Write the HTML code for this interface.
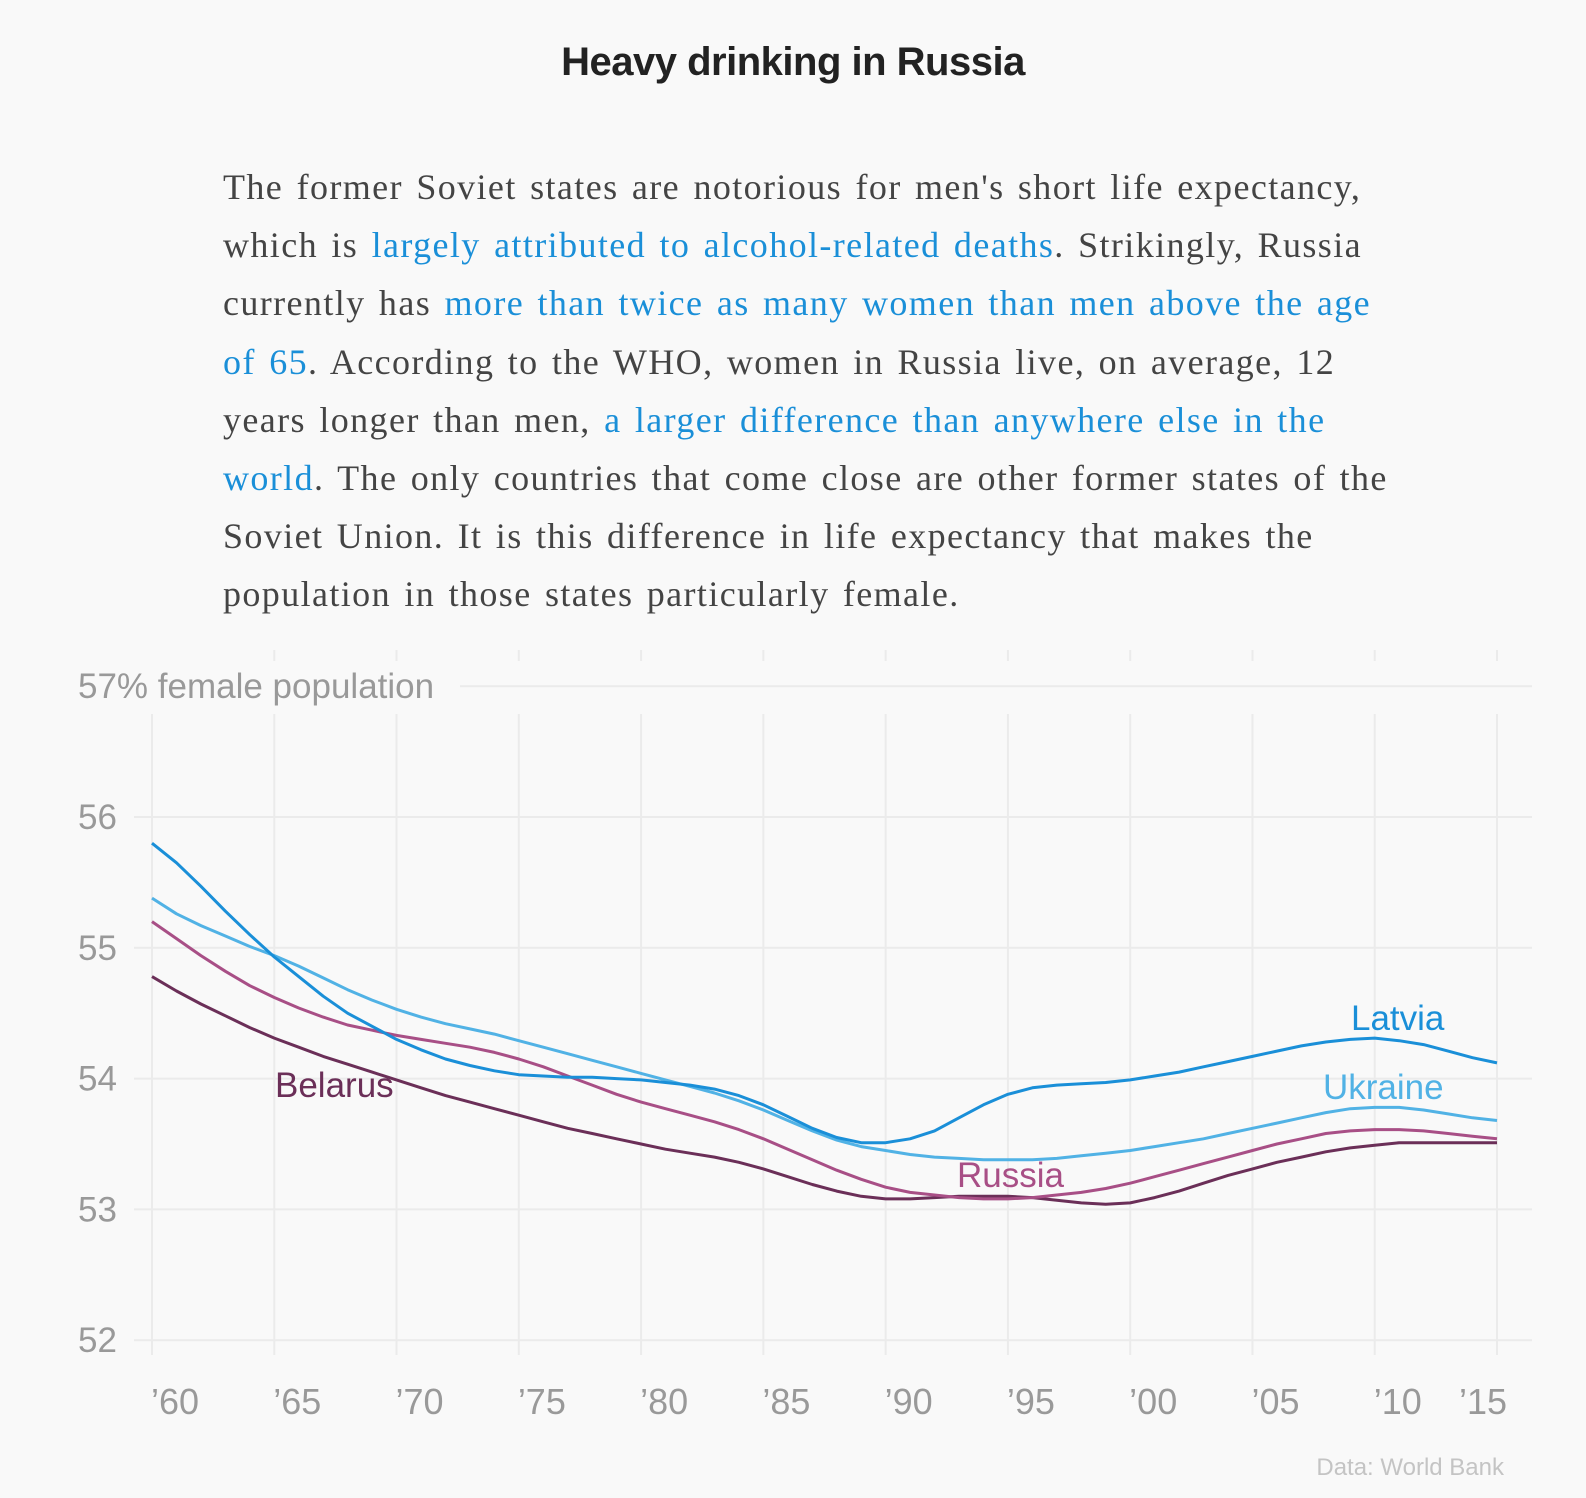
<!DOCTYPE html>
<html><head><meta charset="utf-8"><style>
body{margin:0;background:#f9f9f9;width:1586px;height:1498px;overflow:hidden;font-family:"Liberation Sans",sans-serif;}
#title{position:absolute;top:40px;left:0;width:1586px;text-align:center;font-weight:bold;font-size:40px;color:#222;letter-spacing:-0.5px}
#para{position:absolute;left:223px;top:158px;font-family:"Liberation Serif",serif;font-size:36px;letter-spacing:1.4px;word-spacing:3px;line-height:58.2px;color:#444;white-space:nowrap}
#para a{color:#1a8fd8;text-decoration:none}
svg{position:absolute;left:0;top:0}
</style></head><body>
<div id="title">Heavy drinking in Russia</div>
<div id="para">The former Soviet states are notorious for men's short life expectancy,<br>which is <a>largely attributed to alcohol-related deaths</a>. Strikingly, Russia<br>currently has <a>more than twice as many women than men above the age</a><br><a>of 65</a>. According to the WHO, women in Russia live, on average, 12<br>years longer than men, <a>a larger difference than anywhere else in the</a><br><a>world</a>. The only countries that come close are other former states of the<br>Soviet Union. It is this difference in life expectancy that makes the<br>population in those states particularly female.</div>
<svg id="chart" width="1586" height="1498"></svg>
<script>
const years=[];for(let y=1960;y<=2015;y++)years.push(y);
const yTicks=[52,53,54,55,56,57];
const xTicks=[1960,1965,1970,1975,1980,1985,1990,1995,2000,2005,2010,2015];
const xTickLabels=["’60","’65","’70","’75","’80","’85","’90","’95","’00","’05","’10","’15"];
const latvia=[55.8,55.65,55.47,55.28,55.1,54.93,54.78,54.63,54.5,54.4,54.3,54.22,54.15,54.1,54.06,54.03,54.02,54.01,54.01,54.0,53.99,53.97,53.95,53.92,53.87,53.8,53.71,53.62,53.55,53.51,53.51,53.54,53.6,53.7,53.8,53.88,53.93,53.95,53.96,53.97,53.99,54.02,54.05,54.09,54.13,54.17,54.21,54.25,54.28,54.3,54.31,54.29,54.26,54.21,54.16,54.12];
const ukraine=[55.38,55.26,55.17,55.09,55.01,54.94,54.86,54.77,54.68,54.6,54.53,54.47,54.42,54.38,54.34,54.29,54.24,54.19,54.14,54.09,54.04,53.99,53.94,53.89,53.83,53.76,53.68,53.6,53.53,53.48,53.45,53.42,53.4,53.39,53.38,53.38,53.38,53.39,53.41,53.43,53.45,53.48,53.51,53.54,53.58,53.62,53.66,53.7,53.74,53.77,53.78,53.78,53.76,53.73,53.7,53.68];
const russia=[55.2,55.07,54.94,54.82,54.71,54.62,54.54,54.47,54.41,54.37,54.33,54.3,54.27,54.24,54.2,54.15,54.09,54.02,53.95,53.88,53.82,53.77,53.72,53.67,53.61,53.54,53.46,53.38,53.3,53.23,53.17,53.13,53.11,53.09,53.08,53.08,53.09,53.11,53.13,53.16,53.2,53.25,53.3,53.35,53.4,53.45,53.5,53.54,53.58,53.6,53.61,53.61,53.6,53.58,53.56,53.54];
const belarus=[54.78,54.67,54.57,54.48,54.39,54.31,54.24,54.17,54.11,54.05,53.99,53.93,53.87,53.82,53.77,53.72,53.67,53.62,53.58,53.54,53.5,53.46,53.43,53.4,53.36,53.31,53.25,53.19,53.14,53.1,53.08,53.08,53.09,53.1,53.1,53.1,53.09,53.07,53.05,53.04,53.05,53.09,53.14,53.2,53.26,53.31,53.36,53.4,53.44,53.47,53.49,53.51,53.51,53.51,53.51,53.51];
const seriesNames=["Belarus","Russia","Ukraine","Latvia"];
const seriesData=[belarus,russia,ukraine,latvia];
const colors=["#6b2f58","#a84f86","#51b2e5","#1a8fd8"];
const labelXY=[[275,1085],[957,1175],[1323,1087],[1351,1018]];
const NS="http://www.w3.org/2000/svg",svg=document.getElementById('chart');
const X=v=>152+(v-1960)*(1345/55), Y=v=>817+(56-v)*130.8;
function mk(t,a,p){const e=document.createElementNS(NS,t);for(const k in a)e.setAttribute(k,a[k]);(p||svg).appendChild(e);return e;}
xTicks.forEach((t,i)=>{
 const l=mk('line',{x1:X(t),x2:X(t),y1:714,y2:1355,stroke:'#ebebeb','stroke-width':2});
 
 
 if(t>1960){const l2=mk('line',{x1:X(t),x2:X(t),y1:650,y2:661,stroke:'#ebebeb','stroke-width':2});
 
 }
 const last=i===xTicks.length-1;
 const tx=mk('text',{x:last?X(t)+10:X(t)-1,y:1414,'font-size':36,fill:'#999','text-anchor':last?'end':'start'});
 tx.textContent=xTickLabels[i];
 
 
});
yTicks.forEach(t=>{
 const l=mk('line',{x1:t===57?460:134,x2:1532,y1:Y(t),y2:Y(t),stroke:'#ebebeb','stroke-width':2});
 
 
 const tx=mk('text',{x:78,y:Y(t)+12,'font-size':35,fill:'#999'});
 tx.textContent=t===57?'57% female population':String(t);
 
 
});
seriesData.forEach((d,i)=>{
 const p=mk('path',{d:d.map((v,j)=>(j?'L':'M')+X(years[j]).toFixed(1)+','+Y(v).toFixed(1)).join(''),fill:'none',stroke:colors[i],'stroke-width':3,'stroke-linejoin':'round'});
 
 
 const lp=labelXY[i];
 const tx=mk('text',{x:lp[0],y:lp[1]+12,'font-size':35,fill:colors[i]});
 tx.textContent=seriesNames[i];
 
 
});
const src=mk('text',{x:1504,y:1475,'font-size':24,fill:'#c4c4c4','text-anchor':'end'});
src.textContent='Data: World Bank';


</script>
</body></html>
